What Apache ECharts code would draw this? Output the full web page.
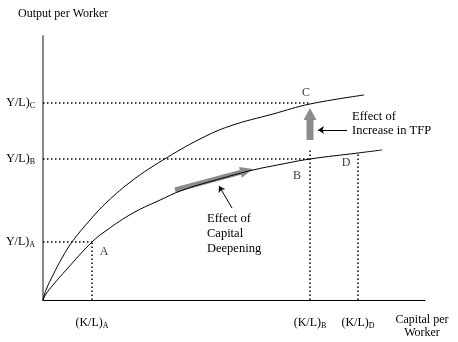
<!DOCTYPE html>
<html>
<head>
<meta charset="utf-8">
<script src="https://cdn.jsdelivr.net/npm/echarts@6/dist/echarts.min.js"></script>
<style>
  html, body { margin: 0; padding: 0; background: #fff; }
  #chart { width: 458px; height: 342px; }
</style>
</head>
<body>
<div id="chart"></div>
<script>
// production functions (capital per worker, output per worker)
const upperCurve = [[0, 0], [3, 10], [10, 25], [19, 42], [29, 58], [47, 80], [64, 98], [90, 120], [120, 140],
  [157, 161], [187, 174], [230, 186], [267, 196], [321, 205]];
const lowerCurve = [[0, 0], [3, 6], [10, 15], [24, 31], [49, 58], [64, 70], [90, 87], [115, 99], [140, 110],
  [180, 122], [210, 130], [237, 135.5], [267, 141], [315, 147], [339, 150]];

// reference levels
const kTicks = [49, 267, 315];
const kTickNames = ['A', 'B', 'D'];
const yTicks = [58, 141, 197];
const yTickNames = ['A', 'B', 'C'];

// points labelled on the curves
const pointNames = ['A', 'B', 'C', 'D'];
const pointPos = [[61, 48], [254, 124], [263, 207], [303, 137]];

// arrows
const deepeningArrow = [[132, 110], [210, 131]];
const tfpArrow = [[267, 160], [267, 192]];
const deepeningPointer = [[189, 92], [176, 114]];
const tfpPointer = [[304, 170], [275, 170]];

const serif = '"Liberation Serif", "DejaVu Serif", serif';
const chart = echarts.init(document.getElementById('chart'));

function dotted(coords) {
  return {
    type: 'line',
    data: coords,
    symbol: 'none',
    silent: true,
    lineStyle: { color: '#000', width: 1.5, type: [1.5, 2.5] },
    z: 1
  };
}

function thickArrow(pts, bodyW, headW, headL) {
  return {
    type: 'custom',
    silent: true,
    data: [0],
    renderItem: function (params, api) {
      const a = api.coord(pts[0]);
      const b = api.coord(pts[1]);
      const dx = b[0] - a[0], dy = b[1] - a[1];
      const len = Math.sqrt(dx * dx + dy * dy);
      const ux = dx / len, uy = dy / len;
      const nx = -uy, ny = ux;
      const hx = b[0] - ux * headL, hy = b[1] - uy * headL;
      const poly = [
        [a[0] + nx * bodyW / 2, a[1] + ny * bodyW / 2],
        [hx + nx * bodyW / 2, hy + ny * bodyW / 2],
        [hx + nx * headW / 2, hy + ny * headW / 2],
        [b[0], b[1]],
        [hx - nx * headW / 2, hy - ny * headW / 2],
        [hx - nx * bodyW / 2, hy - ny * bodyW / 2],
        [a[0] - nx * bodyW / 2, a[1] - ny * bodyW / 2]
      ];
      return { type: 'polygon', shape: { points: poly }, style: { fill: '#8c8c8c' } };
    },
    z: 2
  };
}

function pointer(pts) {
  return {
    type: 'lines',
    coordinateSystem: 'cartesian2d',
    silent: true,
    symbol: ['none', 'arrow'],
    symbolSize: 6,
    lineStyle: { color: '#000', width: 1, opacity: 1 },
    data: [{ coords: pts }],
    z: 4
  };
}

const rich = {
  m: { fontFamily: serif, fontSize: 12, color: '#000' },
  s: { fontFamily: serif, fontSize: 8, color: '#000', padding: [6, 0, 0, 0] }
};

const option = {
  animation: false,
  backgroundColor: '#fff',
  grid: { left: 43, right: 33, top: 36, bottom: 42 },
  xAxis: {
    type: 'value',
    min: 0,
    max: 382,
    splitLine: { show: false },
    axisLine: { show: true, lineStyle: { color: '#000', width: 1.2 } },
    axisTick: { show: false },
    axisLabel: {
      customValues: kTicks,
      margin: 16,
      formatter: function (v) {
        const i = kTicks.indexOf(v);
        return '{m|(K/L)}{s|' + kTickNames[i] + '}';
      },
      rich: rich
    }
  },
  yAxis: {
    type: 'value',
    min: 0,
    max: 264,
    splitLine: { show: false },
    axisLine: { show: true, lineStyle: { color: '#888', width: 2 } },
    axisTick: { show: false },
    axisLabel: {
      customValues: yTicks,
      margin: 8,
      formatter: function (v) {
        const i = yTicks.indexOf(v);
        return '{m|Y/L)}{s|' + yTickNames[i] + '}';
      },
      rich: rich
    }
  },
  graphic: [
    { type: 'text', left: 18, top: 8, style: { text: 'Output per Worker', font: '12px ' + serif, fill: '#000' } },
    { type: 'text', x: 422, y: 313, style: { text: 'Capital per\nWorker', font: '12px ' + serif, fill: '#000', align: 'center', lineHeight: 13 } },
    { type: 'text', x: 352, y: 110, style: { text: 'Effect of\nIncrease in TFP', font: '12.5px ' + serif, fill: '#000', lineHeight: 14 } },
    { type: 'text', x: 207, y: 211, style: { text: 'Effect of\nCapital\nDeepening', font: '12.5px ' + serif, fill: '#000', lineHeight: 15 } }
  ],
  series: [
    dotted([[0, yTicks[2]], [kTicks[1], yTicks[2]]]),
    dotted([[0, yTicks[1]], [kTicks[1], yTicks[1]]]),
    dotted([[0, yTicks[0]], [kTicks[0], yTicks[0]]]),
    dotted([[kTicks[0], 0], [kTicks[0], yTicks[0]]]),
    dotted([[kTicks[1], 0], [kTicks[1], 152]]),
    dotted([[kTicks[2], 0], [kTicks[2], 147]]),
    {
      type: 'line',
      data: upperCurve,
      smooth: 0.4,
      symbol: 'none',
      lineStyle: { color: '#000', width: 1 },
      z: 3
    },
    {
      type: 'line',
      data: lowerCurve,
      smooth: 0.4,
      symbol: 'none',
      lineStyle: { color: '#000', width: 1 },
      z: 3
    },
    thickArrow(deepeningArrow, 5, 11, 13),
    thickArrow(tfpArrow, 7, 13, 12),
    pointer(deepeningPointer),
    pointer(tfpPointer),
    {
      type: 'scatter',
      silent: true,
      symbolSize: 0,
      data: pointPos.map(function (p, i) { return { value: p, name: pointNames[i] }; }),
      label: {
        show: true,
        position: 'inside',
        formatter: '{b}',
        fontFamily: serif,
        fontSize: 12,
        color: '#000'
      },
      z: 5
    }
  ]
};

chart.setOption(option);
</script>
</body>
</html>
